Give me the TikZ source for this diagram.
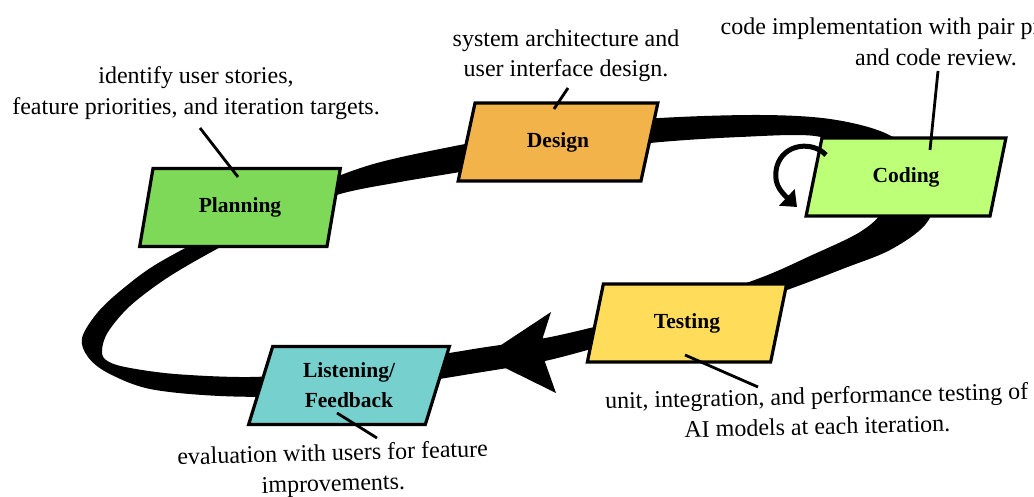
\documentclass[tikz,border=0pt]{standalone}
\usepackage{fontspec}
\setmainfont{Liberation Serif}
\usetikzlibrary{shapes.geometric,arrows.meta}

\definecolor{planfill}{HTML}{7DD957}
\definecolor{designfill}{HTML}{F2B34B}
\definecolor{codefill}{HTML}{BEFF78}
\definecolor{testfill}{HTML}{FFDD5A}
\definecolor{listenfill}{HTML}{76D0CD}

\tikzset{
  phase/.style={trapezium, trapezium left angle=72.2, trapezium right angle=107.8,
    trapezium stretches=true, minimum width=201, minimum height=78,
    draw=black, line width=3.2, align=center, inner sep=0pt,
    font=\fontsize{21.5}{30}\selectfont\bfseries},
  note/.style={align=center, inner sep=0pt, font=\fontsize{24}{30.5}\selectfont},
  leader/.style={line width=2.8, black},
}

\begin{document}
\begin{tikzpicture}[x=1pt,y=-1pt]
\useasboundingbox (0,0) rectangle (1034,497);
\clip (0,0) rectangle (1034,497);

% the iteration loop, a tapered brush stroke
\fill[black, even odd rule]
  plot[smooth cycle, tension=0.55] coordinates {
    (82,338) (98,312) (125,287) (160,262) (230,225) (300,192) (370,165)
    (455,146) (560,127) (660,118) (760,115) (830,119) (885,133) (922,160)
    (936,195) (925,225) (890,250) (845,268) (787,290) (700,320) (620,341)
    (545,361) (470,374) (380,388) (300,396) (220,396) (150,389) (108,373)
    (88,357)}
  plot[smooth cycle, tension=0.55] coordinates {
    (102,350) (108,332) (130,306) (167,278) (215,250) (280,216) (340,194)
    (400,182) (460,172) (560,155) (650,143) (740,137) (815,136) (852,152)
    (875,180) (882,210) (860,232) (810,256) (760,278) (680,305) (590,328)
    (540,339) (480,348) (400,361) (320,372) (250,377) (175,374) (125,367)
    (106,360)};

% arrowhead on the loop between testing and feedback
\fill[black] (483,357) -- (551,312) -- (543,337) -- (545,362) -- (556,393) -- cycle;

% phase boxes
\node[phase, fill=planfill]   (plan)   at (240,207.5) {Planning};
\node[phase, fill=designfill] (design) at (558,142)   {Design};
\node[phase, fill=codefill]   (coding) at (906,177)   {Coding};
\node[phase, fill=testfill]   (testing) at (687,323)  {Testing};
\node[phase, fill=listenfill] (listen) at (349,385.5) {Listening/\\Feedback};

% repeated coding cycle
\coordinate (loopstart) at (826,155);
\coordinate (loopend) at (797,207);
\draw[line width=5, -{Triangle[length=14,width=22]}]
  (loopstart) .. controls (813,141) and (784,143) .. (777,166)
  .. controls (773,182) and (779,190) .. (loopend);

% notes
\node[note] (plannote)   at (196,93)  {identify user stories,\\feature priorities, and iteration targets.};
\node[note] (designnote) at (566,56)  {system architecture and\\user interface design.};
\node[note] (codingnote) at (936,42)  {code implementation with pair programming\\and code review.};
\node[note, rotate=1.3] (testnote)   at (817,411) {unit, integration, and performance testing of\\AI models at each iteration.};
\node[note, rotate=1.5] (listennote) at (333,470) {evaluation with users for feature\\improvements.};

% leader lines from notes into the boxes
\coordinate (planA) at (200,128);   \coordinate (planB) at (238,177);
\coordinate (designA) at (568,88);  \coordinate (designB) at (554,109);
\coordinate (codingA) at (938,71);  \coordinate (codingB) at (930,150);
\coordinate (testA) at (758,387);   \coordinate (testB) at (685,355);
\coordinate (listenA) at (377,438); \coordinate (listenB) at (337,413);
\draw[leader] (planA) -- (planB);
\draw[leader] (designA) -- (designB);
\draw[leader] (codingA) -- (codingB);
\draw[leader] (testA) -- (testB);
\draw[leader] (listenA) -- (listenB);
\end{tikzpicture}
\end{document}
